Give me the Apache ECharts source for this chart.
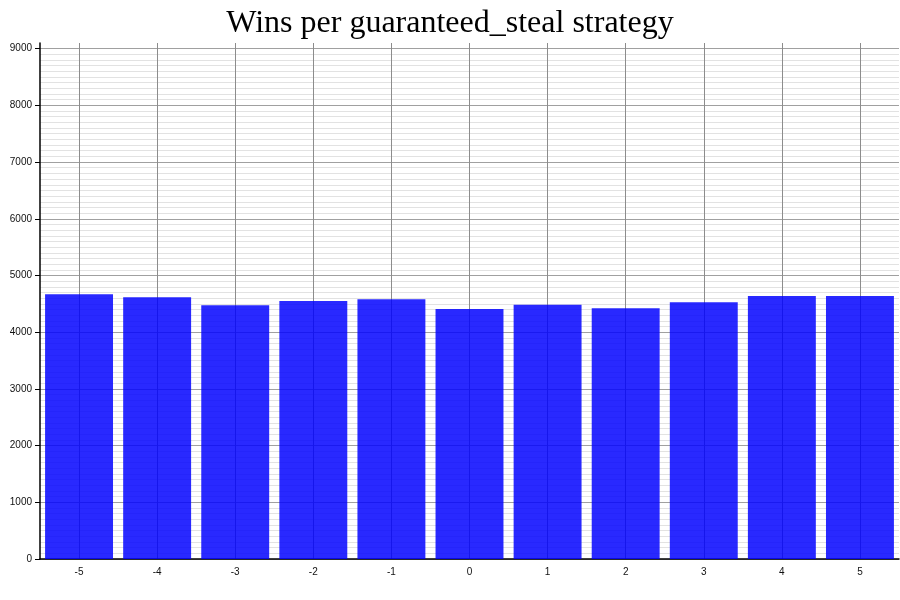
<!DOCTYPE html>
<html>
<head>
<meta charset="utf-8">
<title>Wins per guaranteed_steal strategy</title>
<script src="https://cdn.jsdelivr.net/npm/echarts@6/dist/echarts.min.js"></script>
<style>
    html, body { margin: 0; padding: 0; background: #fff; }
    #main { width: 900px; height: 600px; }
</style>
</head>
<body>
<div id="main"></div>
<script>
// Strategy offsets and win counts
const strategies = ["-5", "-4", "-3", "-2", "-1", "0", "1", "2", "3", "4", "5"];
const wins = [4671, 4618, 4477, 4548, 4583, 4407, 4482, 4424, 4530, 4636, 4636];

document.addEventListener("DOMContentLoaded", function () {
    var chartDom = document.getElementById("main");
    var myChart = echarts.init(chartDom);

    const option = {
        animation: false,
        backgroundColor: "#fff",
        title: {
            text: "Wins per guaranteed_steal strategy",
            left: "center",
            top: 3,
            textStyle: {
                fontFamily: "Liberation Serif",
                fontWeight: "normal",
                fontSize: 32,
                color: "#000"
            }
        },
        grid: { left: 40, right: 1, top: 43, bottom: 41 },
        xAxis: {
            type: "category",
            data: strategies,
            axisLine: { lineStyle: { color: "#000", width: 1.5 } },
            axisTick: { alignWithLabel: true, length: 5, lineStyle: { color: "#000" } },
            axisLabel: { fontFamily: "Liberation Sans", fontSize: 10, color: "#111", margin: 8 },
            splitLine: { show: true, alignWithLabel: true, lineStyle: { color: "#8c8c8c", width: 1 } }
        },
        yAxis: {
            type: "value",
            min: 0,
            max: 9100,
            interval: 1000,
            axisLine: { show: true, lineStyle: { color: "#000", width: 1.5 } },
            axisTick: { show: true, length: 5, lineStyle: { color: "#000" } },
            axisLabel: {
                fontFamily: "Liberation Sans",
                fontSize: 10,
                color: "#111",
                showMaxLabel: false,
                formatter: function (value) { return String(value); }
            },
            splitLine: { show: true, showMaxLine: false, lineStyle: { color: "#a0a0a0", width: 1 } },
            minorTick: { show: false, splitNumber: 10 },
            minorSplitLine: { show: true, lineStyle: { color: "#e2e2e2", width: 1 } }
        },
        series: [
            {
                type: "bar",
                data: wins,
                barCategoryGap: "13%",
                itemStyle: { color: "#0000ff", opacity: 0.84 }
            }
        ]
    };

    option && myChart.setOption(option);
});
</script>
</body>
</html>
